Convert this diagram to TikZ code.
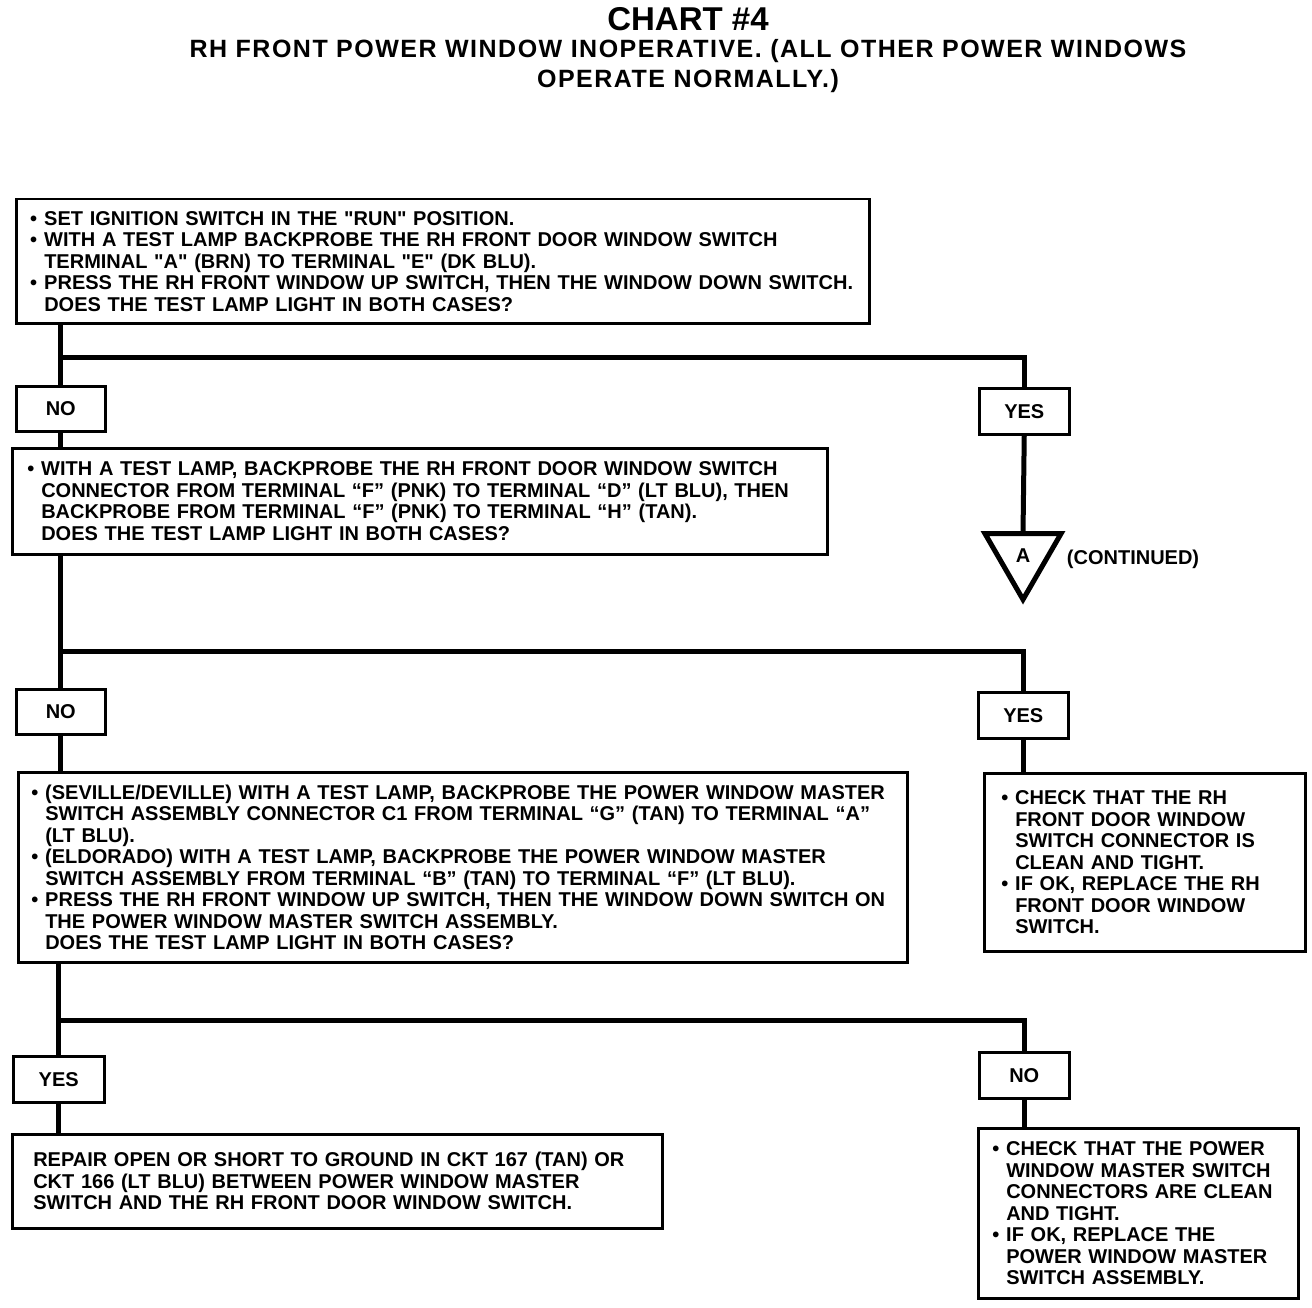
\documentclass[tikz,border=0pt]{standalone}
\usepackage{fontspec}
\setmainfont{Liberation Sans}[Ligatures=TeXOff]
\newfontfamily\headfont{Liberation Sans}[Ligatures=TeXOff, LetterSpace=6]
\usetikzlibrary{positioning, shapes.geometric}
\newcommand{\bul}{\makebox[14pt][l]{\textbullet}}
\newcommand{\ind}{\hspace*{14pt}}
\tikzset{
  box/.style={draw, line width=2.5pt, anchor=north west, align=left,
    inner xsep=15pt, inner ysep=2pt, font=\bfseries\fontsize{20}{21.5}\selectfont},
  answer/.style={draw, line width=2.5pt, anchor=north west,
    inner sep=0pt, font=\bfseries\fontsize{20}{21.5}\selectfont},
  flow/.style={line width=5pt},
  tri/.style={draw, line width=5pt, regular polygon, regular polygon sides=3,
    shape border rotate=180, minimum size=88pt, inner sep=0pt, outer sep=0pt,
    font=\bfseries\fontsize{20}{21.5}\selectfont},
}

\begin{document}
\begin{tikzpicture}[x=1pt, y=-1pt]
    \useasboundingbox (0,0) rectangle (1312,1308);

    % Heading
    \node[font=\bfseries\fontsize{33}{35}\selectfont] (chart) at (688,19) {CHART \#4};
    \node[align=center, font=\headfont\bfseries\fontsize{25}{30}\selectfont] (head) at (688,66)
      {RH FRONT POWER WINDOW INOPERATIVE. (ALL OTHER POWER WINDOWS\\OPERATE NORMALLY.)};

    % First check
    \node[box, text width=825pt, inner xsep=14pt, minimum height=124pt] (q1) at (15,198)
      {\bul SET IGNITION SWITCH IN THE "RUN" POSITION.\\
       \bul WITH A TEST LAMP BACKPROBE THE RH FRONT DOOR WINDOW SWITCH\\
       \ind TERMINAL "A" (BRN) TO TERMINAL "E" (DK BLU).\\
       \bul PRESS THE RH FRONT WINDOW UP SWITCH, THEN THE WINDOW DOWN SWITCH.\\
       \ind DOES THE TEST LAMP LIGHT IN BOTH CASES?};
    \node[answer, minimum width=89pt, minimum height=45pt] (no1) at (15,385) {NO};
    \node[answer, minimum width=90pt, minimum height=46pt] (yes1) at (978,387) {YES};
    \node[tri] (cont) at (1023,555.5) {A};
    \node[font=\bfseries\fontsize{20}{21.5}\selectfont, right=15pt of cont.east, anchor=west,
      yshift=-4pt] (contd) {(CONTINUED)};

    % Second check
    \node[box, text width=785pt, minimum height=106pt] (q2) at (11,447)
      {\bul WITH A TEST LAMP, BACKPROBE THE RH FRONT DOOR WINDOW SWITCH\\
       \ind CONNECTOR FROM TERMINAL “F” (PNK) TO TERMINAL “D” (LT BLU), THEN\\
       \ind BACKPROBE FROM TERMINAL “F” (PNK) TO TERMINAL “H” (TAN).\\
       \ind DOES THE TEST LAMP LIGHT IN BOTH CASES?};
    \node[answer, minimum width=89pt, minimum height=45pt] (no2) at (15,688) {NO};
    \node[answer, minimum width=90pt, minimum height=46pt] (yes2) at (977,691) {YES};

    % Third check
    \node[box, text width=863pt, inner xsep=13pt, minimum height=190pt] (q3) at (17,771)
      {\bul (SEVILLE/DEVILLE) WITH A TEST LAMP, BACKPROBE THE POWER WINDOW MASTER\\
       \ind SWITCH ASSEMBLY CONNECTOR C1 FROM TERMINAL “G” (TAN) TO TERMINAL “A”\\
       \ind (LT BLU).\\
       \bul (ELDORADO) WITH A TEST LAMP, BACKPROBE THE POWER WINDOW MASTER\\
       \ind SWITCH ASSEMBLY FROM TERMINAL “B” (TAN) TO TERMINAL “F” (LT BLU).\\
       \bul PRESS THE RH FRONT WINDOW UP SWITCH, THEN THE WINDOW DOWN SWITCH ON\\
       \ind THE POWER WINDOW MASTER SWITCH ASSEMBLY.\\
       \ind DOES THE TEST LAMP LIGHT IN BOTH CASES?};
    \node[box, text width=287pt, inner xsep=17pt, minimum height=178pt] (fix1) at (983,772)
      {\bul CHECK THAT THE RH\\
       \ind FRONT DOOR WINDOW\\
       \ind SWITCH CONNECTOR IS\\
       \ind CLEAN AND TIGHT.\\
       \bul IF OK, REPLACE THE RH\\
       \ind FRONT DOOR WINDOW\\
       \ind SWITCH.};
    \node[answer, minimum width=91pt, minimum height=46pt] (yes3) at (12,1055) {YES};
    \node[answer, minimum width=90pt, minimum height=46pt] (no3) at (978,1051) {NO};

    % Repairs
    \node[box, text width=608pt, inner xsep=21pt, minimum height=94pt] (fix2) at (11,1133)
      {REPAIR OPEN OR SHORT TO GROUND IN CKT 167 (TAN) OR\\
       CKT 166 (LT BLU) BETWEEN POWER WINDOW MASTER\\
       SWITCH AND THE RH FRONT DOOR WINDOW SWITCH.};
    \node[box, text width=292pt, inner xsep=14pt, minimum height=170pt] (fix3) at (977,1127)
      {\bul CHECK THAT THE POWER\\
       \ind WINDOW MASTER SWITCH\\
       \ind CONNECTORS ARE CLEAN\\
       \ind AND TIGHT.\\
       \bul IF OK, REPLACE THE\\
       \ind POWER WINDOW MASTER\\
       \ind SWITCH ASSEMBLY.};

    % Connectors
    \coordinate (j1) at (59.5,357);
    \coordinate (j2) at (59.5,651);
    \coordinate (j3) at (57.5,1020);
    \draw[flow] (q1.south -| no1.north) -- (no1.north);
    \draw[flow] (j1) -| (yes1.north);
    \draw[flow] (no1.south) -- (no1.south |- q2.north);
    \draw[flow] (yes1.south) -- (cont.north);
    \draw[flow] (q2.south -| no2.north) -- (no2.north);
    \draw[flow] (j2) -| (yes2.north);
    \draw[flow] (no2.south) -- (no2.south |- q3.north);
    \draw[flow] (yes2.south) -- (yes2.south |- fix1.north);
    \draw[flow] (q3.south -| yes3.north) -- (yes3.north);
    \draw[flow] (j3) -| (no3.north);
    \draw[flow] (yes3.south) -- (yes3.south |- fix2.north);
    \draw[flow] (no3.south) -- (no3.south |- fix3.north);
\end{tikzpicture}
\end{document}
